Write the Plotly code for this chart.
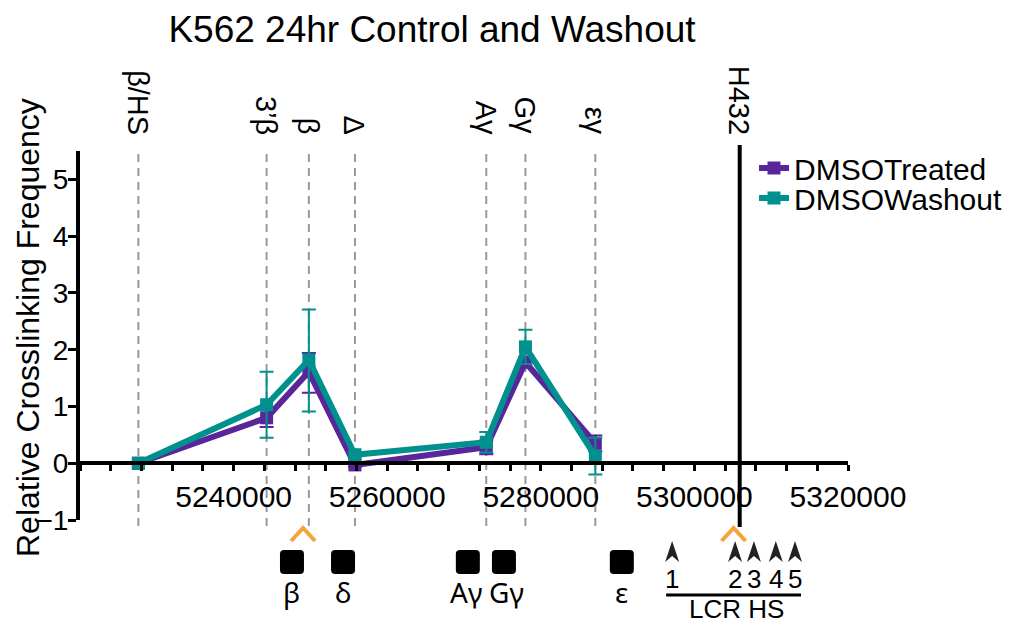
import plotly.graph_objects as go

# ---------------- data ----------------
probe_names = ["β/HS", "3’β", "β", "Δ", "Aγ", "Gγ", "εγ"]
probe_pos = [5227600, 5244300, 5249800, 5255800, 5272900, 5278000, 5287100]
anchor_name = "H432"
anchor_pos = 5305900

treated_y = [0.0, 0.80, 1.61, -0.03, 0.28, 1.78, 0.35]
treated_err_plus = [0.0, 0.16, 0.33, 0.03, 0.12, 0.08, 0.14]
treated_err_minus = [0.0, 0.16, 0.37, 0.03, 0.12, 0.08, 0.14]

washout_y = [0.0, 1.03, 1.82, 0.15, 0.37, 2.05, 0.12]
washout_err_plus = [0.0, 0.58, 0.89, 0.03, 0.18, 0.30, 0.33]
washout_err_minus = [0.0, 0.58, 0.91, 0.03, 0.18, 0.30, 0.32]

x_tickvals = [5240000, 5260000, 5280000, 5300000, 5320000]
x_ticktext = ["5240000", "5260000", "5280000", "5300000", "5320000"]
y_tickvals = [-1, 0, 1, 2, 3, 4, 5]

gene_names = ["β", "δ", "Aγ", "Gγ", "ε"]
gene_pos = [5247600, 5254250, 5270300, 5275500, 5290550]
box_pos = [5247600, 5254250, 5270500, 5275200, 5290550]
hs_labels = ["1", "2", "3", "4", "5"]
hs_pos = [5297100, 5305300, 5307750, 5310600, 5313100]
chevron_pos = [5249050, 5305100]

XMIN, XMAX = 5220000, 5320000
YMIN, YMAX = -1, 5.5

# ---------------- layout geometry ----------------
W, H = 1024, 625
L, R, T, B = 80, 176, 151, 105
PW = W - L - R
PH = H - T - B
XPP = (XMAX - XMIN) / PW  # data units per pixel


def py(pix):
    """pixel row -> paper y"""
    return (T + PH - pix) / PH


PURPLE = "#58269A"
TEAL = "#00918E"
ORANGE = "#F5A43C"
FONT = "Liberation Sans, Arial, sans-serif"
FONT2 = "Noto Sans, Open Sans, sans-serif"

fig = go.Figure()

fig.add_trace(go.Scatter(
    x=probe_pos, y=treated_y, name="DMSOTreated", mode="lines+markers",
    line=dict(color=PURPLE, width=6),
    marker=dict(symbol="square", size=13, color=PURPLE),
    error_y=dict(type="data", array=treated_err_plus, arrayminus=treated_err_minus,
                 color=PURPLE, thickness=2, width=7),
    cliponaxis=False, legend="legend",
))
fig.add_trace(go.Scatter(
    x=probe_pos, y=washout_y, name="DMSOWashout", mode="lines+markers",
    line=dict(color=TEAL, width=6),
    marker=dict(symbol="square", size=13, color=TEAL),
    error_y=dict(type="data", array=washout_err_plus, arrayminus=washout_err_minus,
                 color=TEAL, thickness=2, width=7),
    cliponaxis=False, legend="legend2",
))

shapes = []
annotations = []

# dashed probe lines + vertical labels
for name, xp in zip(probe_names, probe_pos):
    shapes.append(dict(type="line", xref="x", yref="paper", x0=xp, x1=xp,
                       y0=py(526), y1=py(148), layer="below",
                       line=dict(color="#999999", width=2, dash="8px,6px")))
    annotations.append(dict(text=name, x=xp, xref="x", y=py(137), yref="paper",
                            textangle=90, showarrow=False, xanchor="center",
                            yanchor="bottom", font=dict(family=FONT, size=29, color="black")))

# anchor line
shapes.append(dict(type="line", xref="x", yref="paper", x0=anchor_pos, x1=anchor_pos,
                   y0=py(527), y1=py(145), line=dict(color="black", width=4)))
annotations.append(dict(text=anchor_name, x=anchor_pos, xref="x", y=py(137), yref="paper",
                        textangle=90, showarrow=False, xanchor="center", yanchor="bottom",
                        font=dict(family=FONT, size=29, color="black")))

# orange chevrons
for xc in chevron_pos:
    path = "M {a},{b} L {c},{d} L {e},{f}".format(
        a=xc - 12 * XPP, b=py(541), c=xc, d=py(528), e=xc + 12 * XPP, f=py(541))
    shapes.append(dict(type="path", xref="x", yref="paper", path=path,
                       line=dict(color=ORANGE, width=4)))

# gene boxes (rounded squares) and labels
for xb in box_pos:
    h = 12
    r = 4
    x0, x1 = xb - h * XPP, xb + h * XPP
    y0, y1 = py(562 + h), py(562 - h)
    rx, ry = r * XPP, r / PH
    path = (f"M {x0 + rx},{y0} L {x1 - rx},{y0} Q {x1},{y0} {x1},{y0 + ry} "
            f"L {x1},{y1 - ry} Q {x1},{y1} {x1 - rx},{y1} L {x0 + rx},{y1} "
            f"Q {x0},{y1} {x0},{y1 - ry} L {x0},{y0 + ry} Q {x0},{y0} {x0 + rx},{y0} Z")
    shapes.append(dict(type="path", xref="x", yref="paper", path=path,
                       fillcolor="black", line=dict(color="black", width=0)))
for name, xg in zip(gene_names, gene_pos):
    annotations.append(dict(text=name, x=xg, xref="x", y=py(592), yref="paper",
                            showarrow=False, xanchor="center", yanchor="middle",
                            font=dict(family=FONT2, size=28, color="black")))

# LCR HS arrowheads and numbers
for lab, xh in zip(hs_labels, hs_pos):
    path = "M {a},{b} L {c},{d} L {e},{f} L {g},{h} Z".format(
        a=xh, b=py(541), c=xh + 7 * XPP, d=py(562), e=xh, f=py(556), g=xh - 7 * XPP, h=py(562))
    shapes.append(dict(type="path", xref="x", yref="paper", path=path,
                       fillcolor="#222222", line=dict(color="#222222", width=0)))
    annotations.append(dict(text=lab, x=xh, xref="x", y=py(579), yref="paper",
                            showarrow=False, xanchor="center", yanchor="middle",
                            font=dict(family=FONT, size=26, color="black")))

shapes.append(dict(type="line", xref="x", yref="paper",
                   x0=hs_pos[0] - 6 * XPP, x1=hs_pos[-1] + 6 * XPP,
                   y0=py(595), y1=py(595), line=dict(color="black", width=3)))
annotations.append(dict(text="LCR HS", x=(hs_pos[0] + hs_pos[-1]) / 2 + 3 * XPP, xref="x",
                        y=py(609), yref="paper", showarrow=False, xanchor="center",
                        yanchor="middle", font=dict(family=FONT, size=26, color="black")))

# y-axis title
annotations.append(dict(text="Relative Crosslinking Frequency", x=-(L - 28) / PW, xref="paper",
                        y=py(328), yref="paper", textangle=-90, showarrow=False,
                        xanchor="center", yanchor="middle",
                        font=dict(family=FONT, size=32, color="black")))

legend_common = dict(x=(754 - L) / PW, xanchor="left", yanchor="middle",
                     bgcolor="rgba(0,0,0,0)", font=dict(family=FONT, size=30, color="black"),
                     itemwidth=30)

fig.update_layout(
    width=W, height=H,
    margin=dict(l=L, r=R, t=T, b=B),
    paper_bgcolor="white", plot_bgcolor="white",
    title=dict(text="K562 24hr Control and Washout", x=432 / W, xanchor="center",
               xref="container", y=1 - 29 / H, yanchor="middle", yref="container",
               font=dict(family=FONT, size=37, color="black")),
    showlegend=True,
    legend=dict(y=py(168), **legend_common),
    legend2=dict(y=py(198), **legend_common),
    shapes=shapes,
    annotations=annotations,
    xaxis=dict(range=[XMIN, XMAX], anchor="free", position=(0 - YMIN) / (YMAX - YMIN),
               showline=True, linecolor="black", linewidth=4, mirror=False,
               showgrid=False, zeroline=False,
               tickvals=x_tickvals, ticktext=x_ticktext, ticks="outside",
               ticklen=6, tickwidth=3, tickcolor="black",
               tickfont=dict(family=FONT, size=30, color="black"),
               minor=dict(dtick=4000, tick0=XMIN, ticks="outside", ticklen=6,
                          tickwidth=3, tickcolor="black", showgrid=False)),
    yaxis=dict(range=[YMIN, YMAX], showline=True, linecolor="black", linewidth=4,
               showgrid=False, zeroline=False, tickvals=y_tickvals, ticks="outside",
               ticklen=8, tickwidth=3, tickcolor="black", ticklabelstandoff=-6,
               tickfont=dict(family=FONT, size=28, color="black")),
)

fig.write_html("out.html")
